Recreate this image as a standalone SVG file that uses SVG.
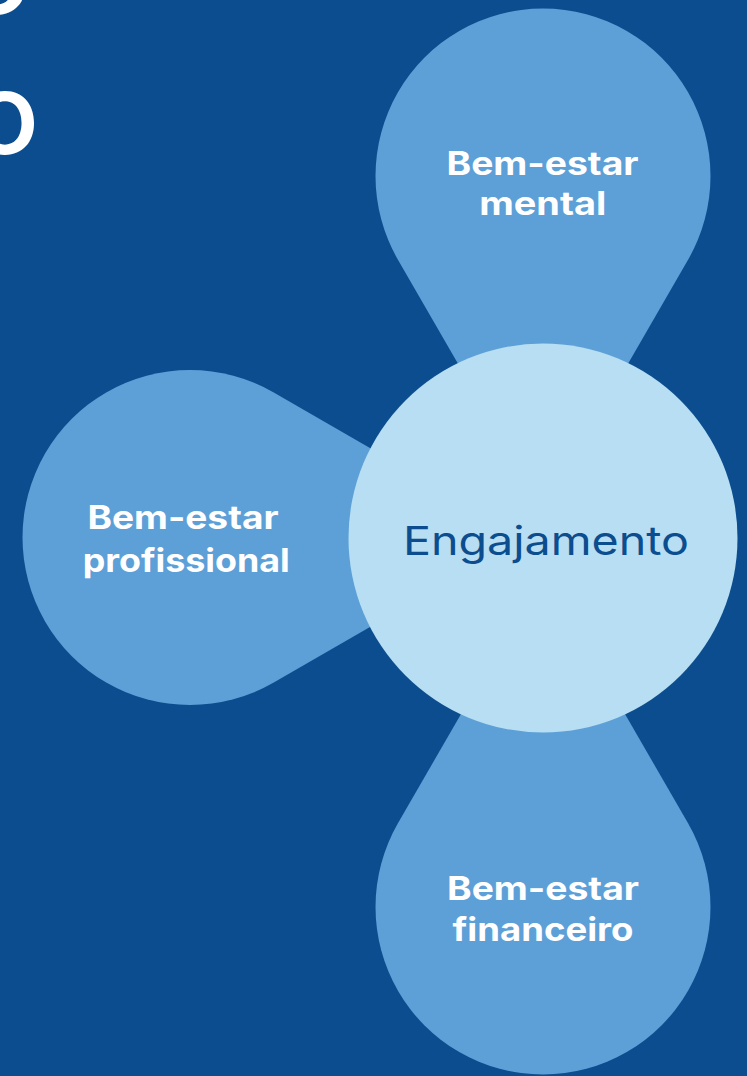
<svg xmlns="http://www.w3.org/2000/svg" width="747" height="1076" viewBox="0 0 747 1076">
  <style>
    .bg { fill: #0b4d8e; }
    .petal { fill: #5da0d7; }
    .hub { fill: #b7def2; }
    .lbl { font-family: Inter, "Noto Sans", "Liberation Sans", sans-serif; font-weight: 700; font-size: 32px; fill: #ffffff; text-anchor: middle; }
    .hubtxt { font-family: Inter, "Noto Sans", "Liberation Sans", sans-serif; font-weight: 400; font-size: 40px; fill: #0b4d8e; text-anchor: middle; }
    .frag { font-family: Inter, "Noto Sans", "Liberation Sans", sans-serif; font-weight: 500; font-size: 114px; fill: #ffffff; text-anchor: middle; }
  </style>
  <rect class="bg" x="0" y="0" width="747" height="1076"/>

  <g id="title-fragments">
    <text class="frag" x="-3" y="14">o</text>
    <text class="frag" x="5" y="154">o</text>
  </g>

  <g id="node-mental">
    <path class="petal" d="M 397.94 259.75 A 167.5 167.5 0 1 1 688.06 259.75 L 543 511 Z"/>
    <text class="lbl" x="542.5" y="175" textLength="192" lengthAdjust="spacingAndGlyphs">Bem-estar</text>
    <text class="lbl" x="542.7" y="215" textLength="127" lengthAdjust="spacingAndGlyphs">mental</text>
  </g>

  <g id="node-profissional">
    <path class="petal" d="M 273.75 392.44 A 167.5 167.5 0 1 0 273.75 682.56 L 525 537.5 Z"/>
    <text class="lbl" x="183" y="528.5" textLength="191" lengthAdjust="spacingAndGlyphs">Bem-estar</text>
    <text class="lbl" x="186.3" y="571.5" textLength="207" lengthAdjust="spacingAndGlyphs">profissional</text>
  </g>

  <g id="node-financeiro">
    <path class="petal" d="M 397.94 823.25 A 167.5 167.5 0 1 0 688.06 823.25 L 543 572 Z"/>
    <text class="lbl" x="543" y="900" textLength="192" lengthAdjust="spacingAndGlyphs">Bem-estar</text>
    <text class="lbl" x="543" y="940.7" textLength="181" lengthAdjust="spacingAndGlyphs">financeiro</text>
  </g>

  <g id="node-engajamento">
    <circle class="hub" cx="543" cy="538" r="194.5"/>
    <text class="hubtxt" x="546" y="555" textLength="286" lengthAdjust="spacingAndGlyphs">Engajamento</text>
  </g>

  <g id="connectors"></g>
</svg>
